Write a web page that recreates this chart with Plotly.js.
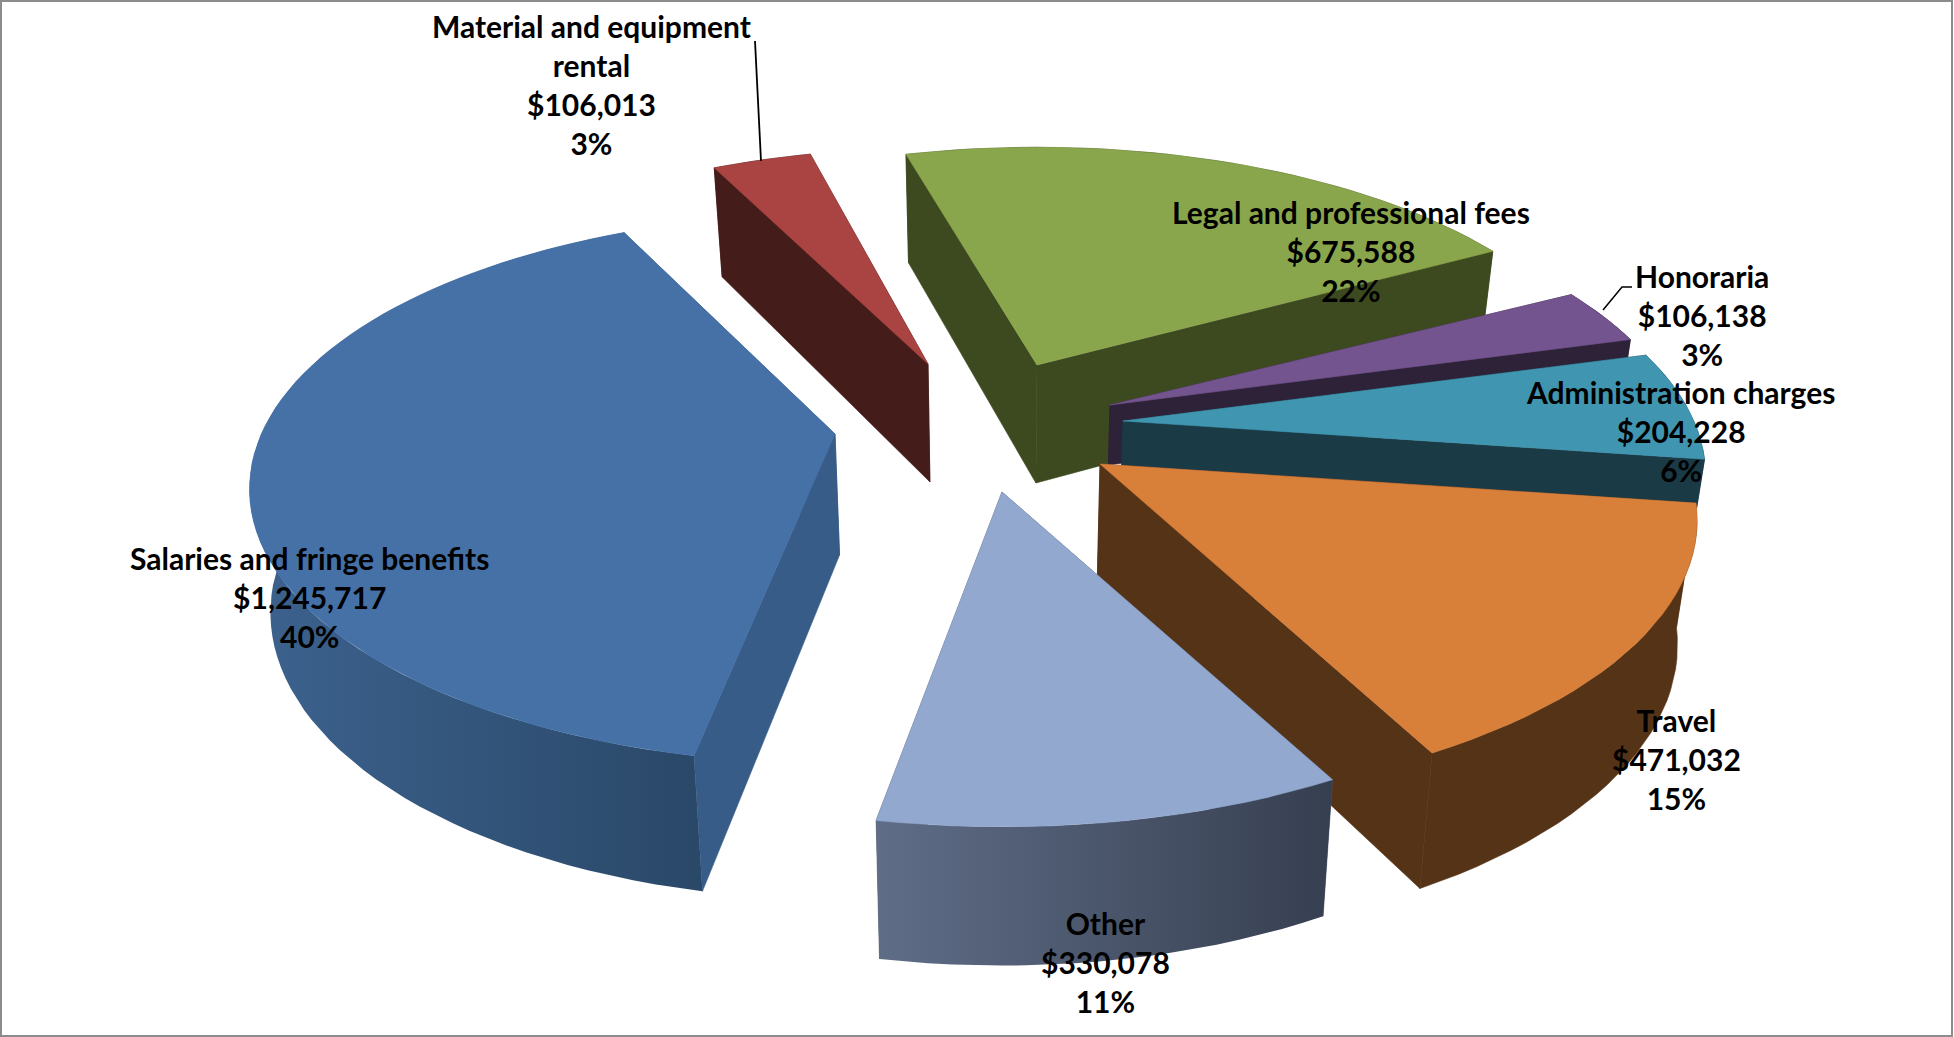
<!DOCTYPE html>
<html><head><meta charset="utf-8">
<script src="https://cdn.plot.ly/plotly-3.0.1.min.js"></script>
<style>html,body{margin:0;padding:0;background:#fff}#c{width:1954px;height:1037px}</style>
</head><body><div id="c"></div>
<script>
// ---- data ----
const categories = ["Salaries and fringe benefits","Material and equipment rental","Legal and professional fees","Honoraria","Administration charges","Travel","Other"];
const labelLines = [["Salaries and fringe benefits"],["Material and equipment","rental"],["Legal and professional fees"],["Honoraria"],["Administration charges"],["Travel"],["Other"]];
const amounts = [1245717,106013,675588,106138,204228,471032,330078];
const percents = ["40%","3%","22%","3%","6%","15%","11%"];
// ---- style ----
const topColors = ["#4571A7","#A94442","#8AA64C","#73548F","#4096B0","#D87F3A","#92A8CE"];
const sideColors = ["#375C87","#441C1A","#3D4A20","#2E2238","#1A3A46","#553317","#4A566C"];
const rimGradients = [["#3C628E","#2A4868"],null,null,null,null,null,["#5F6D87","#363F50"]];
const explodeApex = [[835,434],[928,364],[1037,365],[1110,405],[1123,421],[1100,464],[1002,492]];
const depthScale = [1,1,1,0.5,0.4,1,1];
const radiusScale = [1.01,0.99,1,1,1.005,1.03,1.025];
const angleNudge = [1.4,0.5,-1,0,0,0,0];
const labelAnchors = [[309,597],[591,84],[1351,251],[1702,315],[1680,431],[1676,759],[1105,962]];
const drawOrder = [1,2,3,4,5,6,0];
const startAngle = -170, RAD = 568, TILT = 0.46, PERSP = 0.2;

// ---- geometry from values ----
const total = amounts.reduce((a,b)=>a+b,0);
function rim(ap,deg,rs){const t=deg*Math.PI/180,c=Math.cos(t),s=1/(1+PERSP*c);
  return [ap[0]+RAD*rs*Math.sin(t)*s, ap[1]-RAD*rs*c*TILT*s];}
function drop(p,ds){return [p[0]-(p[0]-997)*0.028*ds, p[1]+(110+(p[1]-187)*0.045)*ds];}
const xs=a=>a.map(p=>p[0]), ys=a=>a.map(p=>p[1]);
const traces=[];
function poly(pts,color,grad){
  const t={type:'scatter',mode:'lines',x:xs(pts).concat(pts[0][0]),y:ys(pts).concat(pts[0][1]),fill:'toself',
    fillcolor:color,line:{width:0.6,color:color},hoverinfo:'skip',showlegend:false};
  if(grad){t.fillgradient={type:'horizontal',colorscale:[[0,grad[0]],[1,grad[1]]]};t.line.width=0;}
  traces.push(t);
}
let acc=[],a0=startAngle;
amounts.forEach(v=>{const sw=v/total*360;acc.push([a0,a0+sw]);a0+=sw;});
drawOrder.forEach(i=>{
  const ap=explodeApex[i],arc=[],ds=depthScale[i];
  const a=acc[i][0]+angleNudge[i],b=acc[i][1]+angleNudge[i];
  const n=Math.max(8,Math.round((b-a)/2));
  for(let k=0;k<=n;k++)arc.push(rim(ap,a+(b-a)*k/n,radiusScale[i]));
  const top=[ap].concat(arc);
  const first=arc[0],last=arc[n];
  poly([ap,first,drop(first,ds),drop(ap,ds)],sideColors[i]);
  poly([ap,last,drop(last,ds),drop(ap,ds)],sideColors[i]);
  poly(arc.concat(arc.slice().reverse().map(p=>drop(p,ds))),sideColors[i],rimGradients[i]);
  poly(top,topColors[i]);
});
const fmt=v=>'$'+v.toLocaleString('en-US');
const annotations=categories.map((c,i)=>({xref:'x',yref:'y',x:labelAnchors[i][0],y:labelAnchors[i][1],
  text:labelLines[i].concat([fmt(amounts[i]),percents[i]]).join('<br>'),showarrow:false,align:'center',
  xanchor:'center',yanchor:'middle',font:{family:'Lato, Carlito, sans-serif',size:30,color:'#000',weight:700}}));
// leader lines
traces.push({type:'scatter',mode:'lines',x:[755,761],y:[41,161],line:{color:'#000',width:1.8},hoverinfo:'skip',showlegend:false});
traces.push({type:'scatter',mode:'lines',x:[1632,1622,1603],y:[287,287,310],line:{color:'#000',width:1.5},hoverinfo:'skip',showlegend:false});
Plotly.newPlot('c',traces,{
  width:1954,height:1037,margin:{l:0,r:0,t:0,b:0},paper_bgcolor:'#fff',plot_bgcolor:'#fff',showlegend:false,
  xaxis:{range:[0,1954],visible:false,fixedrange:true},
  yaxis:{range:[1037,0],visible:false,fixedrange:true},
  annotations,
  shapes:[{type:'rect',xref:'x',yref:'y',x0:1,x1:1952,y0:1,y1:1036,line:{color:'#8c8c8c',width:2}}]
},{displayModeBar:false,staticPlot:true});
</script></body></html>
